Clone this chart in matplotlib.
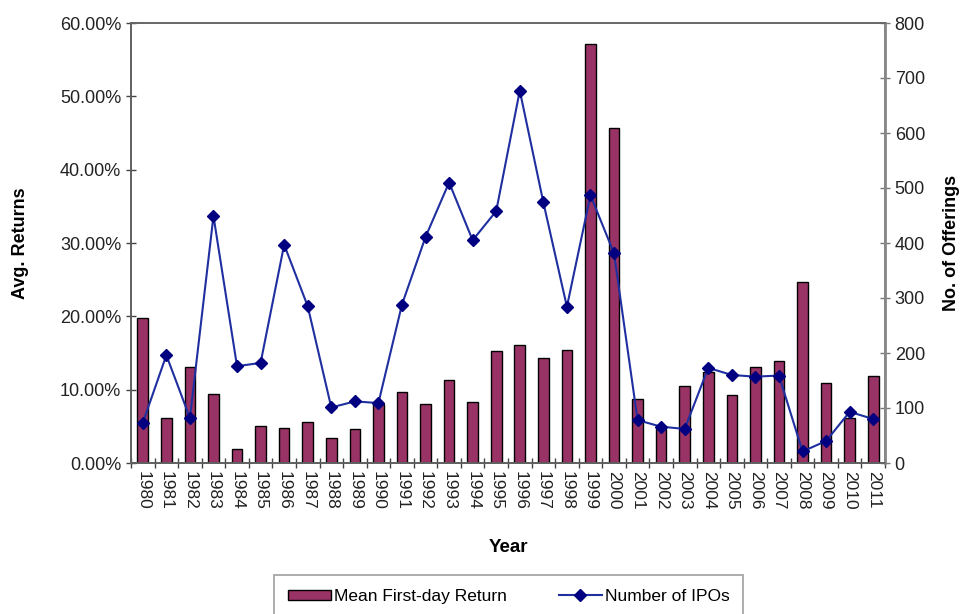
import matplotlib
matplotlib.use("Agg")
import matplotlib.pyplot as plt
from matplotlib.ticker import FuncFormatter, MultipleLocator
import numpy as np

plt.rcParams['font.family'] = ['Liberation Sans', 'DejaVu Sans']

years = [str(y) for y in range(1980, 2012)]
mean_return = [19.8, 6.1, 13.1, 9.4, 1.9, 5.0, 4.8, 5.6, 3.4, 4.7, 8.0, 9.7, 8.0, 11.3,
               8.3, 15.3, 16.1, 14.3, 15.4, 57.1, 45.7, 8.7, 4.7, 10.5, 12.4, 9.3, 13.1,
               13.9, 24.7, 10.9, 6.1, 11.9]
num_ipos = [73, 196, 82, 449, 176, 182, 397, 285, 101, 112, 109, 288, 411, 510, 405,
            458, 677, 474, 284, 487, 381, 78, 66, 62, 173, 160, 157, 159, 21, 40, 93, 80]

W, H = 961, 614
fig = plt.figure(figsize=(W / 100, H / 100), dpi=100)
ax = fig.add_axes([131 / W, 1 - 463 / H, (885 - 131) / W, (463 - 23) / H])
x = np.arange(len(years))

bars = ax.bar(x, mean_return, width=0.45, color='#993366', edgecolor='black',
              linewidth=1.0, label='Mean First-day Return', zorder=2)
ax.set_xlim(-0.5, len(years) - 0.5)
ax.set_ylim(0, 60)
ax.yaxis.set_major_locator(MultipleLocator(10))
ax.yaxis.set_major_formatter(FuncFormatter(lambda v, p: f"{v:.2f}%"))
ax.set_xticks(x)
ax.set_xticklabels(years, rotation=270)
ax.set_xticks(np.arange(-0.5, len(years)), minor=True)
ax.tick_params(axis='x', which='major', length=0, pad=6, labelsize=12.5, labelcolor='#222222')
ax.tick_params(axis='x', which='minor', length=7, direction='inout', width=1, color='#444444')
ax.tick_params(axis='y', length=7, direction='inout', width=1, labelsize=13, color='#444444', labelcolor='#222222')

ax2 = ax.twinx()
line, = ax2.plot(x, num_ipos, color='#1f2f9f', linewidth=1.5, marker='D', markersize=6.5,
                 markerfacecolor='#000080', markeredgecolor='#000080', label='Number of IPOs', zorder=3)
ax2.set_ylim(0, 800)
ax2.yaxis.set_major_locator(MultipleLocator(100))
ax2.tick_params(axis='y', length=7, direction='inout', width=1, labelsize=13, color='#777777', labelcolor='#222222')

for a in (ax, ax2):
    for s in a.spines.values():
        s.set_color('#666666')
        s.set_linewidth(1.2)
ax.spines['left'].set_color('#333333')
ax.spines['bottom'].set_color('#333333')
ax2.spines['right'].set_color('#888888')
ax2.spines['right'].set_linewidth(2)

ax.set_ylabel('Avg. Returns', fontsize=13, fontweight='bold', labelpad=22)
ax2.set_ylabel('No. of Offerings', fontsize=13, fontweight='bold', labelpad=13)
ax.set_xlabel('Year', fontsize=13.5, fontweight='bold', labelpad=21)

leg = fig.legend(handles=[bars, line], loc='upper center', bbox_to_anchor=(508.5 / W, 1 - 575 / H),
                 ncol=2, frameon=True, fancybox=False, fontsize=12.5, handlelength=2.5,
                 handleheight=0.5, handletextpad=0.15, columnspacing=3.0, borderpad=0.8,
                 borderaxespad=0)
leg.get_frame().set_edgecolor('#888888')
leg.get_frame().set_linewidth(1.2)

fig.savefig('out.png', dpi=100)
